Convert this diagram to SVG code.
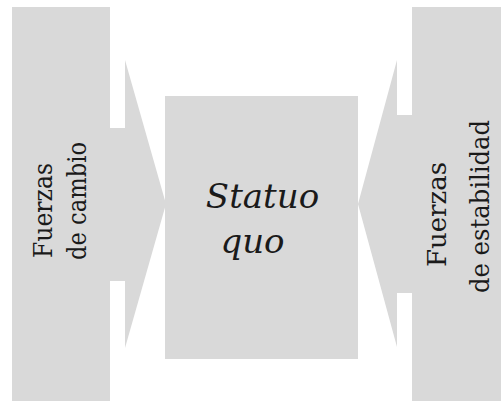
<svg xmlns="http://www.w3.org/2000/svg" width="501" height="401" viewBox="0 0 501 401">
<style>
.shape{fill:#d9d9d9;stroke:none}
.lbl{font-family:"DejaVu Serif",serif;font-size:26px;fill:#1a1a1a;text-anchor:middle}
.ital{font-family:"DejaVu Serif",serif;font-style:italic;font-size:34px;fill:#1a1a1a;text-anchor:middle}
</style>
<rect width="501" height="401" fill="#ffffff"/>
<g id="connectors">
<polygon class="shape" points="109,128 125,128 125,60 166,204 125,348 125,281 109,281"/>
<polygon class="shape" points="413,115 397,115 397,60 358,204 397,347 397,293 413,293"/>
</g>
<g id="fuerzas-cambio">
<rect class="shape" x="12" y="7" width="98" height="394"/>
<text class="lbl" transform="translate(52,210.5) rotate(-90)" textLength="95" lengthAdjust="spacingAndGlyphs">Fuerzas</text>
<text class="lbl" transform="translate(86,201) rotate(-90)" textLength="118" lengthAdjust="spacingAndGlyphs">de cambio</text>
</g>
<g id="statuo-quo">
<rect class="shape" x="165" y="96" width="193" height="263"/>
<text class="ital" x="262.5" y="208">Statuo</text>
<text class="ital" x="252.5" y="253">quo</text>
</g>
<g id="fuerzas-estabilidad">
<rect class="shape" x="412" y="7" width="89" height="394"/>
<text class="lbl" transform="translate(446,214.5) rotate(-90)" textLength="105" lengthAdjust="spacingAndGlyphs">Fuerzas</text>
<text class="lbl" transform="translate(489,206.5) rotate(-90)" textLength="173" lengthAdjust="spacingAndGlyphs">de estabilidad</text>
</g>
</svg>
